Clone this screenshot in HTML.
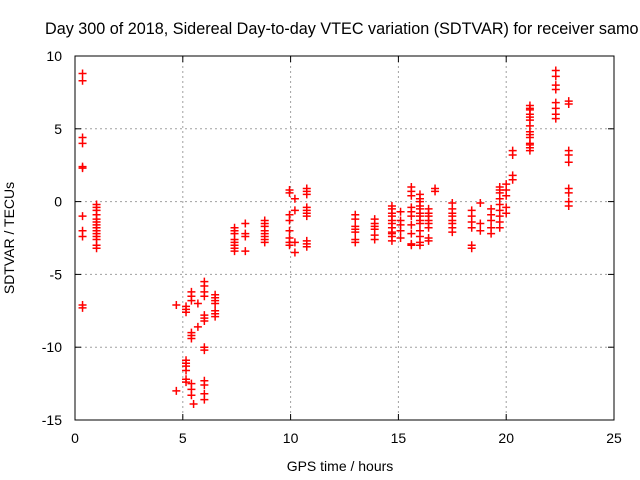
<!DOCTYPE html>
<html><head><meta charset="utf-8"><style>
body{margin:0;background:#fff}
svg{display:block;font-family:"Liberation Sans",sans-serif}
</style></head><body>
<svg id="chart" width="640" height="480">
<text x="45" y="34" font-size="16.2" fill="#000">Day 300 of 2018, Sidereal Day-to-day VTEC variation (SDTVAR) for receiver samo</text>
<g id="grid"></g>
<g id="ticks"></g>
<g id="marks"></g>
<rect x="75" y="56" width="539" height="364" fill="none" stroke="#000" stroke-width="1"/>
<text x="14" y="238" font-size="14" text-anchor="middle" transform="rotate(-90 14 238)">SDTVAR / TECUs</text>
<text x="340" y="471" font-size="14" text-anchor="middle">GPS time / hours</text>
</svg>
<script>
const xTicks=[0,5,10,15,20,25];
const yTicks=[10,5,0,-5,-10,-15];
const clusterHours=[0.35,1.0,4.7,5.15,5.4,5.7,6.0,5.5,6.5,7.4,7.9,8.8,9.95,10.2,10.75,13.0,13.9,14.7,15.1,15.6,16.0,16.4,16.7,17.5,18.4,18.8,19.3,19.7,20.0,20.3,21.1,22.3,22.9];
const clusterValues=[
[8.8,8.3,4.4,4.0,2.4,2.3,-1.0,-2.0,-2.4,-7.1,-7.3],
[-0.2,-0.4,-0.6,-0.9,-1.2,-1.4,-1.6,-1.8,-2.0,-2.2,-2.4,-2.6,-3.0,-3.2],
[-7.1,-13.0],
[-7.2,-7.4,-7.6,-10.9,-11.1,-11.3,-11.6,-12.2,-12.4],
[-6.2,-6.5,-6.8,-9.0,-9.2,-9.4,-12.5,-12.9,-13.3],
[-7.0,-8.6],
[-5.5,-5.8,-6.2,-6.5,-7.8,-8.0,-8.2,-10.0,-10.2,-12.3,-12.6,-13.2,-13.6],
[-13.9],
[-6.4,-6.6,-6.8,-7.0,-7.5,-7.7,-7.9],
[-1.8,-2.0,-2.2,-2.6,-2.8,-3.0,-3.2,-3.4],
[-1.5,-2.2,-2.4,-3.4],
[-1.3,-1.5,-1.7,-2.0,-2.2,-2.4,-2.6,-2.8],
[0.8,0.6,-0.9,-1.3,-2.0,-2.5,-2.8,-3.0],
[0.2,-0.6,-2.8,-3.5],
[0.9,0.7,0.5,-0.4,-0.6,-0.8,-1.0,-2.7,-2.9,-3.1],
[-0.9,-1.2,-1.7,-1.9,-2.1,-2.6,-2.8],
[-1.2,-1.5,-1.7,-1.9,-2.3,-2.6],
[-0.3,-0.5,-0.8,-1.0,-1.3,-1.5,-1.8,-2.1,-2.2,-2.4,-2.7],
[-0.7,-1.3,-1.6,-2.0,-2.5],
[1.0,0.7,0.4,-0.4,-0.7,-1.0,-1.6,-2.2,-2.9,-3.0],
[0.5,0.2,0,-0.3,-0.5,-0.8,-1,-1.3,-1.5,-2.0,-2.4,-2.8,-3.0],
[-0.5,-0.8,-1.0,-1.3,-1.5,-1.8,-2.5,-2.7],
[0.9,0.7],
[-0.1,-0.5,-0.8,-1.0,-1.3,-1.5,-1.8,-2.1],
[-0.6,-1.0,-1.4,-1.8,-3.0,-3.2],
[-0.1,-1.5,-2.0],
[-0.5,-0.9,-1.3,-1.8,-2.2],
[1.0,0.8,0.6,0.2,-0.2,-0.6,-1.0,-1.4,-1.8],
[0.8,0.4,-0.4,-0.8,1.2],
[1.8,1.5,3.2,3.5],
[6.6,6.3,6.0,5.6,5.2,4.8,4.4,4.0,3.7,3.5,6.4,5.8,4.6,3.9],
[9.0,8.6,8.0,7.7,6.8,6.4,6.0,5.7],
[6.9,6.7,3.5,3.2,2.7,0.9,0.6,0,-0.3]
];
const NS='http://www.w3.org/2000/svg';
const X=h=>75+h*539/25;
const Y=v=>201.6-v*364/25;
const grid=document.getElementById('grid'),ticks=document.getElementById('ticks'),marks=document.getElementById('marks');
function el(t,a,p){const e=document.createElementNS(NS,t);for(const k in a)e.setAttribute(k,a[k]);p.appendChild(e);return e;}
xTicks.forEach(t=>{
  if(t>0&&t<25){const g=el('line',{x1:X(t),x2:X(t),y1:56,y2:420,stroke:'#a0a0a0','stroke-dasharray':'2,3'},grid);
  
  }
  const l=el('text',{x:X(t),y:443,'font-size':14,'text-anchor':'middle'},ticks);l.textContent=t;
  
  
  el('line',{x1:X(t),x2:X(t),y1:420,y2:414,stroke:'#000'},ticks);
  el('line',{x1:X(t),x2:X(t),y1:56,y2:62,stroke:'#000'},ticks);
});
yTicks.forEach(t=>{
  if(t<10&&t>-15){const g=el('line',{x1:75,x2:614,y1:Y(t),y2:Y(t),stroke:'#a0a0a0','stroke-dasharray':'2,3'},grid);
  
  }
  const l=el('text',{x:62,y:Y(t)+5,'font-size':14,'text-anchor':'end'},ticks);l.textContent=t;
  
  
  el('line',{x1:75,x2:81,y1:Y(t),y2:Y(t),stroke:'#000'},ticks);
  el('line',{x1:608,x2:614,y1:Y(t),y2:Y(t),stroke:'#000'},ticks);
});
clusterHours.forEach((h,i)=>{
  clusterValues[i].forEach(v=>{
    const cx=X(h),cy=Y(v);
    const p=el('path',{d:`M${cx-4},${cy}H${cx+4}M${cx},${cy-4}V${cy+4}`,stroke:'#f00','stroke-width':1.5,fill:'none'},marks);
    
    
  });
});
</script>
</body></html>
